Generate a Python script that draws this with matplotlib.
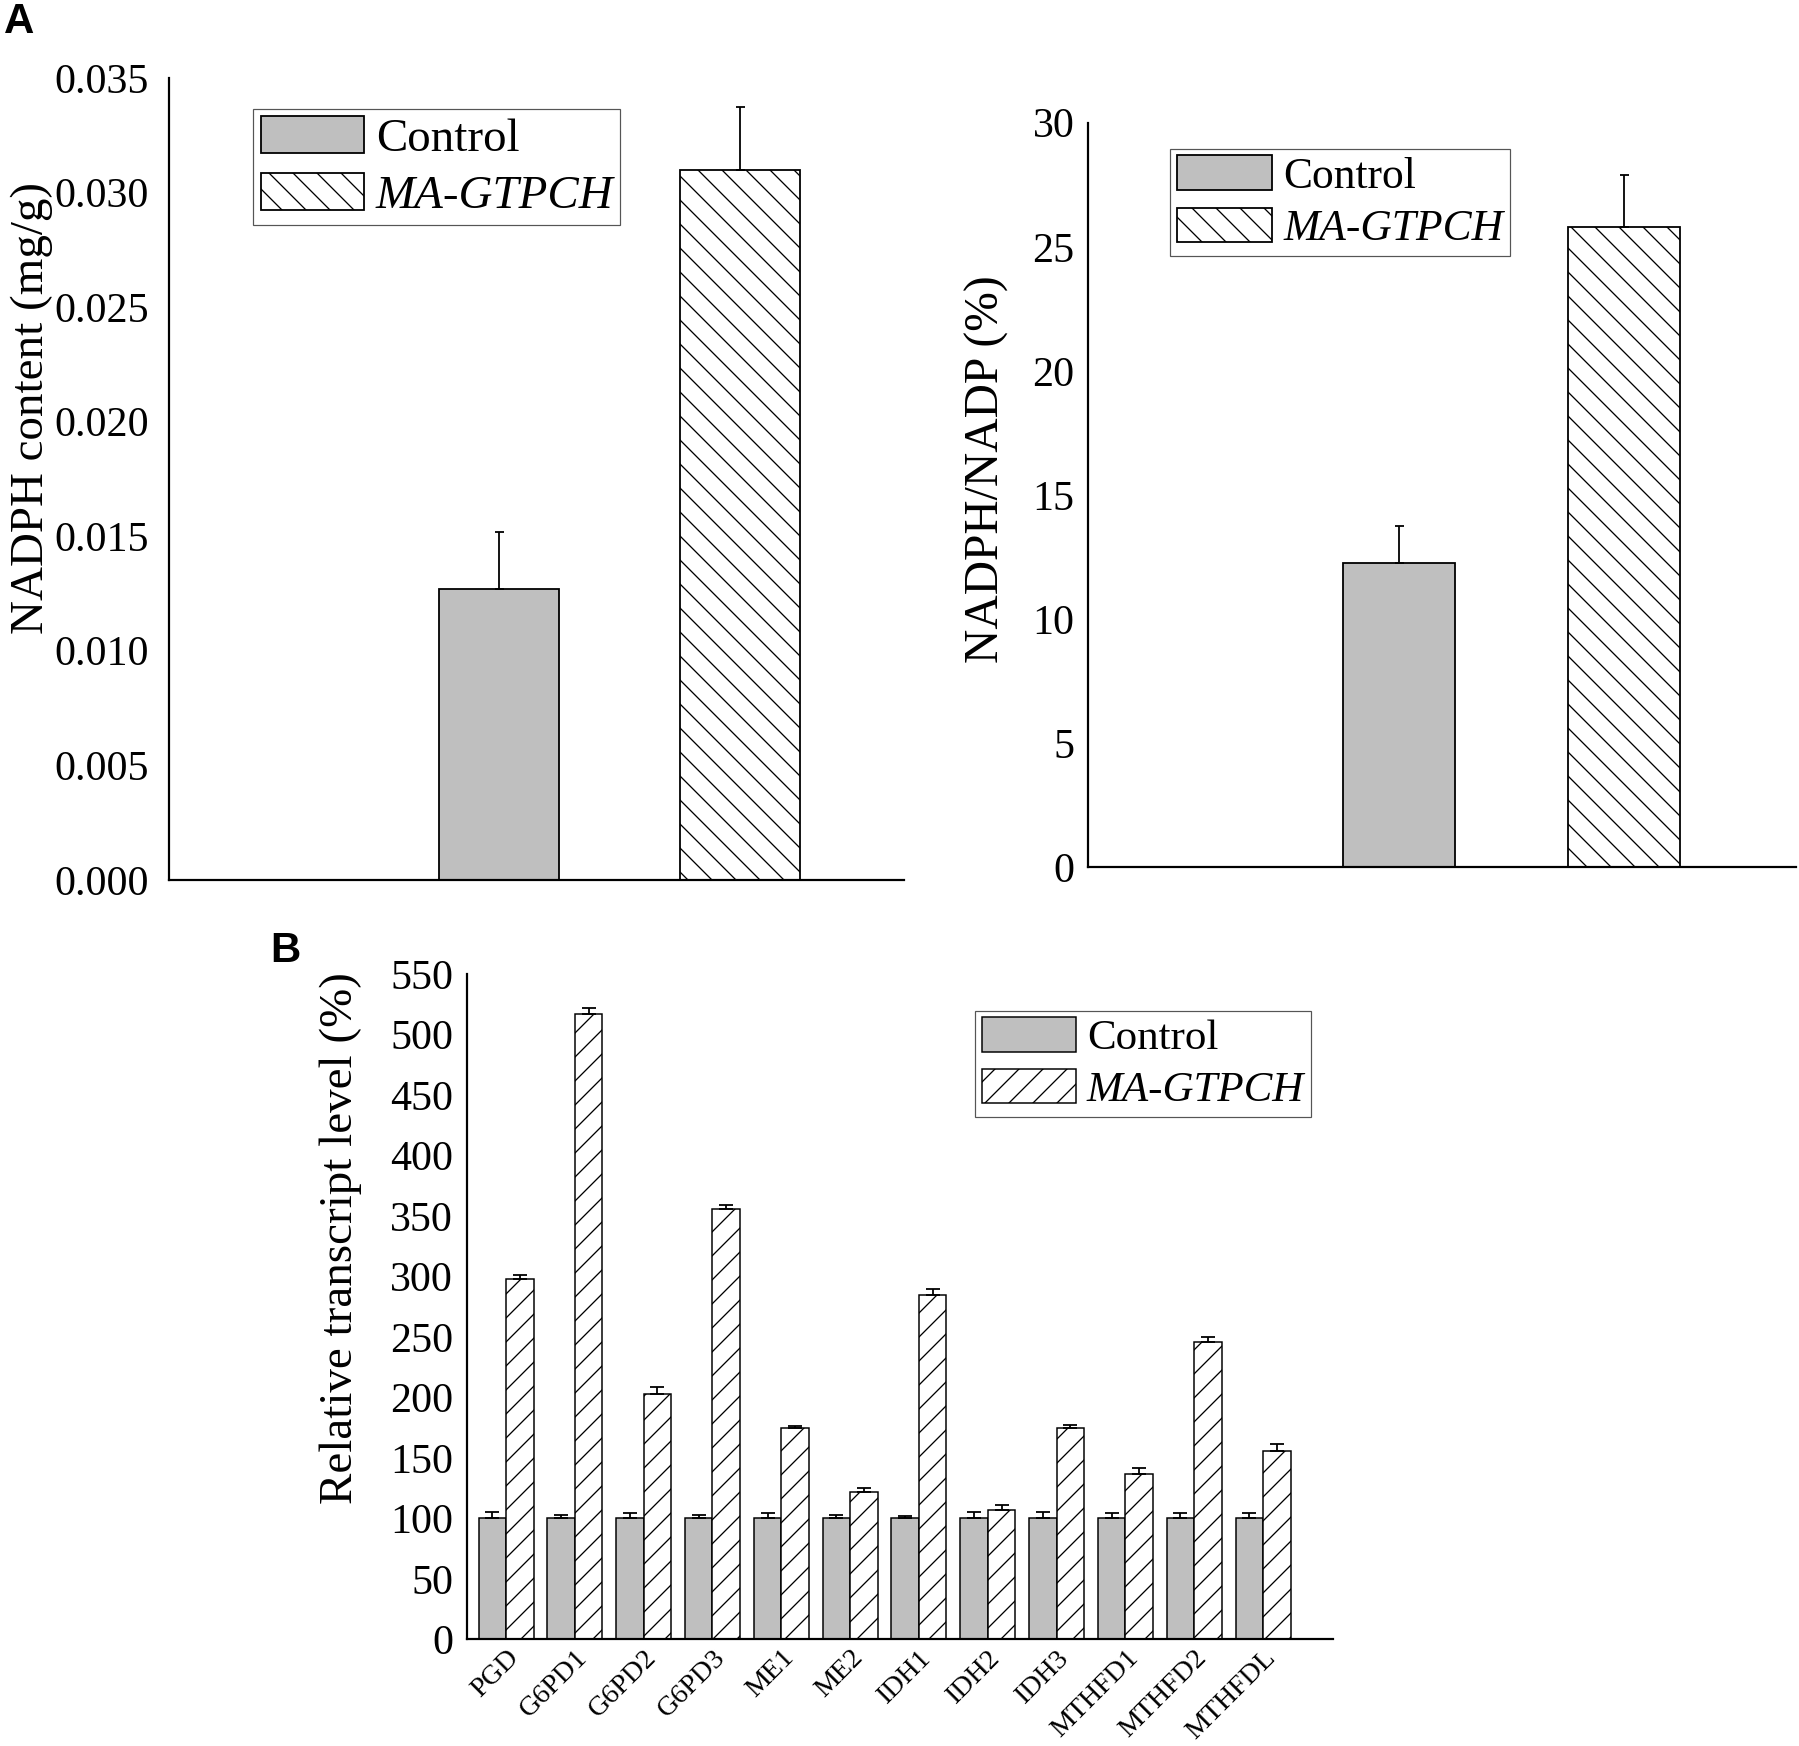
import matplotlib
matplotlib.use("Agg")
import matplotlib.pyplot as plt
import numpy as np

# panel A data
groups = ["Control", "MA-GTPCH"]
nadph_mean = [0.0127, 0.0310]
nadph_err = [0.0025, 0.00275]
ratio_mean = [12.25, 25.8]
ratio_err = [1.5, 2.1]

# panel B data
genes = ["PGD", "G6PD1", "G6PD2", "G6PD3", "ME1", "ME2", "IDH1", "IDH2",
         "IDH3", "MTHFD1", "MTHFD2", "MTHFDL"]
ctrl_mean = [100, 100, 100, 100, 100, 100, 100, 100, 100, 100, 100, 100]
ctrl_err = [5, 3, 4, 3, 4, 3, 2, 5, 5, 4, 4, 4]
ma_mean = [298, 517, 203, 356, 174.5, 122, 284.5, 107, 174.5, 136.5, 245.5, 155.5]
ma_err = [3.5, 4.5, 5.5, 3, 2, 3, 5, 4, 3, 5, 4, 6]

plt.rcParams["font.family"] = ["Liberation Serif", "DejaVu Serif"]
plt.rcParams["hatch.linewidth"] = 1.3
plt.rcParams["hatch.color"] = "black"

GREY = "#bfbfbf"
fig = plt.figure(figsize=(1799 / 72, 1746 / 72), dpi=72)


def style_axes(ax, tick_size, pad):
    for s in ["top", "right"]:
        ax.spines[s].set_visible(False)
    for s in ["left", "bottom"]:
        ax.spines[s].set_linewidth(2.2)
    ax.tick_params(axis="both", length=0, labelsize=tick_size, pad=pad)


def add_legend(ax, handles, size, anchor):
    leg = ax.legend(handles, groups, loc="upper left", bbox_to_anchor=anchor,
                    bbox_transform=fig.transFigure, fontsize=size,
                    frameon=True, fancybox=False, framealpha=1,
                    edgecolor="#555555", handlelength=2.2, handleheight=0.85,
                    handletextpad=0.25, labelspacing=0.25, borderpad=0.15,
                    borderaxespad=0)
    leg.get_frame().set_linewidth(1.2)
    leg.get_texts()[1].set_style("italic")
    return leg


def err_kw(cap):
    return dict(ecolor="black", elinewidth=1.8, capsize=cap, capthick=1.8)


# ---- A left: NADPH content
ax1 = fig.add_axes([0.0938, 0.4961, 0.4088, 0.4592])
xa = np.arange(2)
b1 = ax1.bar(xa[0], nadph_mean[0], 0.5, color=GREY, edgecolor="black", linewidth=1.8,
             yerr=[[0], [nadph_err[0]]], error_kw=err_kw(4.5))
b2 = ax1.bar(xa[1], nadph_mean[1], 0.5, color="white", edgecolor="black", linewidth=1.8,
             hatch="\\", yerr=[[0], [nadph_err[1]]], error_kw=err_kw(4.5))
ax1.set_xlim(-1.371, 1.681)
ax1.set_ylim(0, 0.035)
ticks_a = np.arange(0, 0.0351, 0.005)
ax1.set_yticks(ticks_a)
ax1.set_yticklabels([f"{v:.3f}" for v in ticks_a])
ax1.set_xticks([])
style_axes(ax1, 42, 20)
ax1.set_ylabel("NADPH content (mg/g)", fontsize=47)
ax1.yaxis.set_label_coords(-0.157, 0.589)
add_legend(ax1, [b1, b2], 47, (0.1409, 0.9376))

# ---- A right: NADPH/NADP ratio
ax2 = fig.add_axes([0.6046, 0.5033, 0.3935, 0.4264])
c1 = ax2.bar(xa[0], ratio_mean[0], 0.495, color=GREY, edgecolor="black", linewidth=1.8,
             yerr=[[0], [ratio_err[0]]], error_kw=err_kw(4.5))
c2 = ax2.bar(xa[1], ratio_mean[1], 0.495, color="white", edgecolor="black", linewidth=1.8,
             hatch="\\", yerr=[[0], [ratio_err[1]]], error_kw=err_kw(4.5))
ax2.set_xlim(-1.385, 1.763)
ax2.set_ylim(0, 30)
ax2.set_yticks(np.arange(0, 31, 5))
ax2.set_xticks([])
style_axes(ax2, 42, 13)
ax2.set_ylabel("NADPH/NADP (%)", fontsize=47.5, labelpad=24)
ax2.yaxis.label.set_y(0.535)
add_legend(ax2, [c1, c2], 43.5, (0.6505, 0.9147))

# ---- B: relative transcript levels
ax3 = fig.add_axes([0.2596, 0.0611, 0.4815, 0.3811])
xb = np.arange(len(genes))
d1 = ax3.bar(xb - 0.2, ctrl_mean, 0.4, color=GREY, edgecolor="black", linewidth=1.5,
             yerr=[np.zeros(len(genes)), ctrl_err], error_kw=err_kw(7))
d2 = ax3.bar(xb + 0.2, ma_mean, 0.4, color="white", edgecolor="black", linewidth=1.5,
             hatch="/", yerr=[np.zeros(len(genes)), ma_err], error_kw=err_kw(7))
ax3.set_xlim(-0.567, 12.02)
ax3.set_ylim(0, 550)
ax3.set_yticks(np.arange(0, 551, 50))
ax3.set_xticks(xb)
style_axes(ax3, 42, 14)
ax3.set_xticklabels(genes, rotation=45, ha="right", va="top",
                    rotation_mode="anchor", fontsize=28)
ax3.tick_params(axis="x", pad=6)
ax3.set_ylabel("Relative transcript level (%)", fontsize=47, labelpad=28)
ax3.yaxis.label.set_y(0.603)
add_legend(ax3, [d1, d2], 43, (0.542, 0.421))

# panel letters
fig.text(0.002, 0.999, "A", fontsize=42, fontweight="bold",
         family="Liberation Sans", va="top")
fig.text(0.150, 0.467, "B", fontsize=42, fontweight="bold",
         family="Liberation Sans", va="top")

fig.savefig("out.png", dpi=72)
